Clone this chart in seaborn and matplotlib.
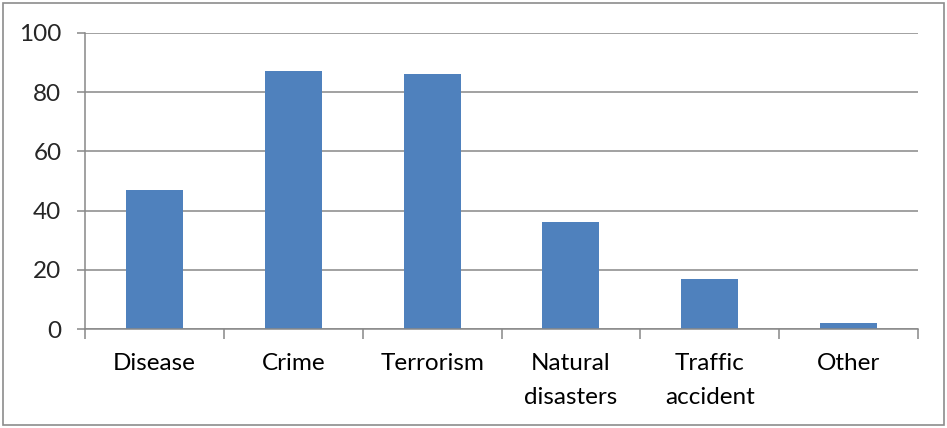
import numpy as np
import pandas as pd
import seaborn as sns
import matplotlib.pyplot as plt
from matplotlib.patches import Rectangle

# data
categories = ["Disease", "Crime", "Terrorism", "Natural\ndisasters", "Traffic\naccident", "Other"]
values = [47, 87, 86, 36, 17, 2]
y_ticks = [0, 20, 40, 60, 80, 100]

df = pd.DataFrame({"cat": categories, "val": values})

sns.set_style("white")
plt.rcParams['font.family'] = ['Lato', 'DejaVu Sans']

fig = plt.figure(figsize=(9.47, 4.28), dpi=100)
ax = fig.add_axes([0.0898, 0.2313, 0.8796, 0.6916])

sns.barplot(data=df, x="cat", y="val", color="#4F81BD", width=0.41,
            saturation=1, edgecolor="none", ax=ax)

grid_col = "#888888"
ax.set_ylim(0, 100)
ax.set_xlim(-0.5, len(categories) - 0.5)
ax.set_yticks(y_ticks)
ax.yaxis.grid(True, color=grid_col, linewidth=1.1)
ax.set_axisbelow(True)

# ticks at category boundaries, labels at centres
ax.set_xticks(np.arange(-0.5, len(categories), 1.0), minor=True)
ax.tick_params(axis='x', which='major', length=0, pad=17, labelsize=17.5, colors='black')
ax.tick_params(axis='x', which='minor', length=7, width=1.1, color=grid_col, direction='out')
ax.tick_params(axis='y', length=6, width=1.1, color=grid_col, pad=11, labelsize=17.5, direction='out')
ax.tick_params(axis='y', left=True)
ax.tick_params(axis='x', which='minor', bottom=True)
for lab in ax.get_xticklabels():
    lab.set_linespacing(1.8)
    lab.set_verticalalignment('top')

for s in ["top", "right"]:
    ax.spines[s].set_visible(False)
for s in ["left", "bottom"]:
    ax.spines[s].set_color(grid_col)
    ax.spines[s].set_linewidth(1.1)

ax.set_xlabel("")
ax.set_ylabel("")

# outer frame of the chart
fig.patches.append(Rectangle((3 / 947, 3 / 428), 941 / 947, 422 / 428,
                             transform=fig.transFigure, fill=False,
                             edgecolor="#8c8c8c", linewidth=1.2))

fig.savefig("out.png", dpi=100)
